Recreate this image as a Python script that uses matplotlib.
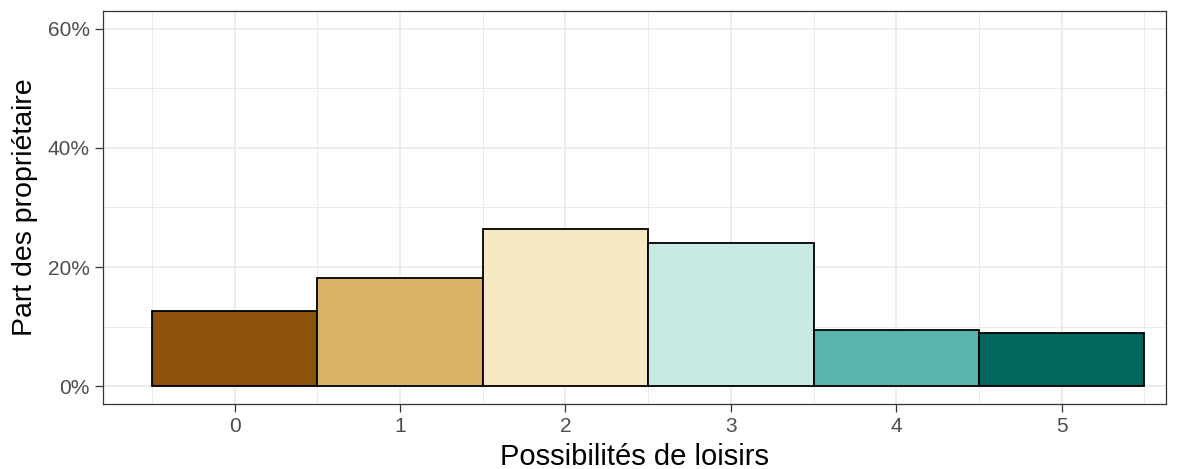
import matplotlib
matplotlib.use("Agg")
import matplotlib.pyplot as plt
from matplotlib.ticker import FuncFormatter, MultipleLocator

categories = [0, 1, 2, 3, 4, 5]
shares = [0.1265, 0.181, 0.264, 0.240, 0.094, 0.090]
colors = ["#8C510A", "#D8B365", "#F6E8C3", "#C7EAE5", "#5AB4AC", "#01665E"]
y_ticks = [0, 0.2, 0.4, 0.6]

plt.rcParams['font.family'] = ['Liberation Sans', 'DejaVu Sans']

fig = plt.figure(figsize=(11.84, 4.69), dpi=100)
ax = fig.add_axes([103/1184, 1 - 404/469, (1166-103)/1184, (404-11)/469])

ax.bar(categories, shares, width=1.0, color=colors, edgecolor="black", linewidth=1.3, zorder=3)

ax.set_xlim(-0.795, 5.63)
ax.set_ylim(-0.03, 0.63)
ax.set_yticks(y_ticks)
ax.yaxis.set_minor_locator(MultipleLocator(0.1))
ax.set_xticks(categories)
ax.xaxis.set_minor_locator(MultipleLocator(0.5))
ax.yaxis.set_major_formatter(FuncFormatter(lambda v, p: f"{v*100:.0f}%"))

ax.grid(which="major", color="#EBEBEB", linewidth=1.3, zorder=0)
ax.grid(which="minor", color="#EBEBEB", linewidth=0.7, zorder=0)
ax.tick_params(which="minor", length=0)
ax.tick_params(which="major", length=5.5, width=0.9, color="#333333",
               labelcolor="#4D4D4D", labelsize=15, pad=4)
for s in ax.spines.values():
    s.set_color("#333333")
    s.set_linewidth(0.9)
ax.set_axisbelow(True)

ax.set_xlabel("Possibilités de loisirs", fontsize=21, color="black", labelpad=5)
ax.set_ylabel("Part des propriétaire", fontsize=20.5, color="black", labelpad=7)

fig.savefig("out.png", dpi=100)
